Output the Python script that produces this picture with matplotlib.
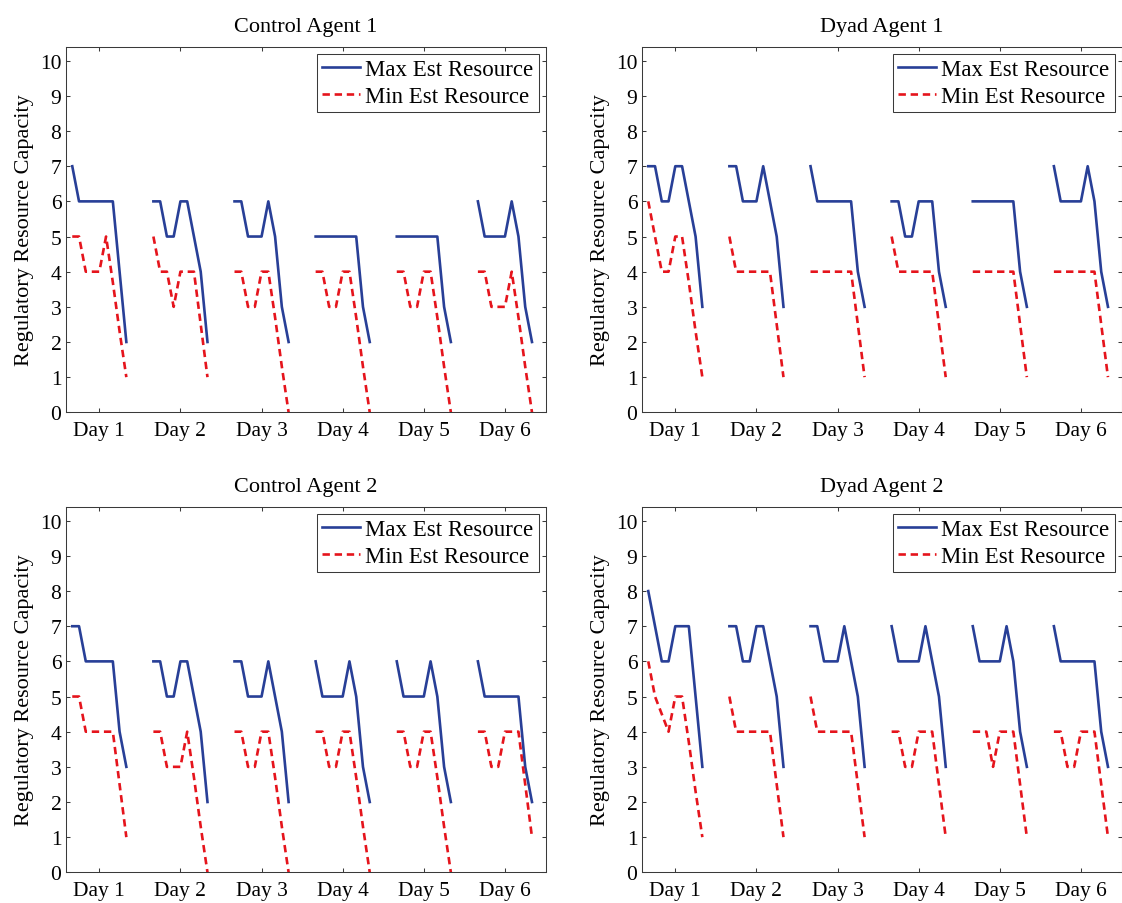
import matplotlib
matplotlib.use('Agg')
import matplotlib.pyplot as plt
import numpy as np

plt.rcParams['font.family'] = ['Liberation Serif', 'DejaVu Serif']
plt.rcParams['mathtext.fontset'] = 'stix'

# one list of 9 readings per day, six days per agent
day_labels = ['Day 1', 'Day 2', 'Day 3', 'Day 4', 'Day 5', 'Day 6']

ctrl1_max = [[7, 6, 6, 6, 6, 6, 6, 4, 2],
             [6, 6, 5, 5, 6, 6, 5, 4, 2],
             [6, 6, 5, 5, 5, 6, 5, 3, 2],
             [5, 5, 5, 5, 5, 5, 5, 3, 2],
             [5, 5, 5, 5, 5, 5, 5, 3, 2],
             [6, 5, 5, 5, 5, 6, 5, 3, 2]]
ctrl1_min = [[5, 5, 4, 4, 4, 5, 3.7, 2.3, 1],
             [5, 4, 4, 3, 4, 4, 4, 2.5, 1],
             [4, 4, 3, 3, 4, 4, 2.7, 1.3, 0],
             [4, 4, 3, 3, 4, 4, 2.7, 1.3, 0],
             [4, 4, 3, 3, 4, 4, 2.7, 1.3, 0],
             [4, 4, 3, 3, 3, 4, 2.7, 1.3, 0]]

dyad1_max = [[7, 7, 6, 6, 7, 7, 6, 5, 3],
             [7, 7, 6, 6, 6, 7, 6, 5, 3],
             [7, 6, 6, 6, 6, 6, 6, 4, 3],
             [6, 6, 5, 5, 6, 6, 6, 4, 3],
             [6, 6, 6, 6, 6, 6, 6, 4, 3],
             [7, 6, 6, 6, 6, 7, 6, 4, 3]]
dyad1_min = [[6, 5, 4, 4, 5, 5, 3.7, 2.3, 1],
             [5, 4, 4, 4, 4, 4, 4, 2.5, 1],
             [4, 4, 4, 4, 4, 4, 4, 2.5, 1],
             [5, 4, 4, 4, 4, 4, 4, 2.5, 1],
             [4, 4, 4, 4, 4, 4, 4, 2.5, 1],
             [4, 4, 4, 4, 4, 4, 4, 2.5, 1]]

ctrl2_max = [[7, 7, 6, 6, 6, 6, 6, 4, 3],
             [6, 6, 5, 5, 6, 6, 5, 4, 2],
             [6, 6, 5, 5, 5, 6, 5, 4, 2],
             [6, 5, 5, 5, 5, 6, 5, 3, 2],
             [6, 5, 5, 5, 5, 6, 5, 3, 2],
             [6, 5, 5, 5, 5, 5, 5, 3, 2]]
ctrl2_min = [[5, 5, 4, 4, 4, 4, 4, 2.5, 1],
             [4, 4, 3, 3, 3, 4, 2.7, 1.3, 0],
             [4, 4, 3, 3, 4, 4, 2.7, 1.3, 0],
             [4, 4, 3, 3, 4, 4, 2.7, 1.3, 0],
             [4, 4, 3, 3, 4, 4, 2.7, 1.3, 0],
             [4, 4, 3, 3, 4, 4, 4, 2.5, 1]]

dyad2_max = [[8, 7, 6, 6, 7, 7, 7, 5, 3],
             [7, 7, 6, 6, 7, 7, 6, 5, 3],
             [7, 7, 6, 6, 6, 7, 6, 5, 3],
             [7, 6, 6, 6, 6, 7, 6, 5, 3],
             [7, 6, 6, 6, 6, 7, 6, 4, 3],
             [7, 6, 6, 6, 6, 6, 6, 4, 3]]
dyad2_min = [[6, 5, 4.5, 4, 5, 5, 3.7, 2.3, 1],
             [5, 4, 4, 4, 4, 4, 4, 2.5, 1],
             [5, 4, 4, 4, 4, 4, 4, 2.5, 1],
             [4, 4, 3, 3, 4, 4, 4, 2.5, 1],
             [4, 4, 4, 3, 4, 4, 4, 2.5, 1],
             [4, 4, 3, 3, 4, 4, 4, 2.5, 1]]

panels = [('Control Agent 1', ctrl1_max, ctrl1_min),
          ('Dyad Agent 1', dyad1_max, dyad1_min),
          ('Control Agent 2', ctrl2_max, ctrl2_min),
          ('Dyad Agent 2', dyad2_max, dyad2_min)]

SLOTS = 12  # time slots per day, 9 of them with readings
BLUE = '#283f97'
RED = '#e5141c'
EDGE = '#3a3a3a'


def flatten(days):
    """join the days into one series, NaN between days so the line breaks"""
    xs, ys = [], []
    for d, vals in enumerate(days):
        xs.extend(SLOTS * d + np.arange(1, len(vals) + 1))
        ys.extend(vals)
        xs.append(SLOTS * d + len(vals) + 1)
        ys.append(np.nan)
    return np.array(xs, dtype=float), np.array(ys, dtype=float)


W, H = 1122, 904
fig = plt.figure(figsize=(W / 100, H / 100), dpi=100)
fig.patch.set_facecolor('white')

# axes boxes in pixels: left, top
lefts = [65.5, 641.5]
tops = [47.7, 507.7]
aw, ah = 480.0, 365.6

for k, (title, vmax, vmin) in enumerate(panels):
    left = lefts[k % 2]
    top = tops[k // 2]
    ax = fig.add_axes([left / W, (H - top - ah) / H, aw / W, ah / H])

    x, y = flatten(vmax)
    ax.plot(x, y, color=BLUE, lw=1.9, label='Max Est Resource')
    x, y = flatten(vmin)
    ax.plot(x, y, color=RED, lw=1.9, linestyle=(0, (2.8, 1.8)),
            label='Min Est Resource')

    ax.set_xlim(0, 71)
    ax.set_ylim(0, 10.4)
    ax.set_xticks([SLOTS * d + 5 for d in range(len(day_labels))])
    ax.set_xticklabels(day_labels)
    ax.set_yticks(range(0, 11))
    ax.tick_params(direction='in', top=True, right=True, length=3,
                   width=0.75, color=EDGE, labelsize=15.5, pad=3)
    ax.tick_params(axis='x', pad=6)
    for sp in ax.spines.values():
        sp.set_linewidth(0.75)
        sp.set_color(EDGE)

    ax.set_title(title, fontsize=16, pad=11)
    ax.set_ylabel('Regulatory Resource Capacity', fontsize=16, labelpad=4)

    leg = ax.legend(loc='upper right', fontsize=16.5, frameon=True,
                    fancybox=False, framealpha=1, edgecolor=EDGE,
                    borderaxespad=0.3, borderpad=0.22, labelspacing=0.28,
                    handlelength=1.65, handletextpad=0.25)
    leg.get_frame().set_linewidth(0.75)

fig.savefig('out.png', dpi=100, facecolor='white')
